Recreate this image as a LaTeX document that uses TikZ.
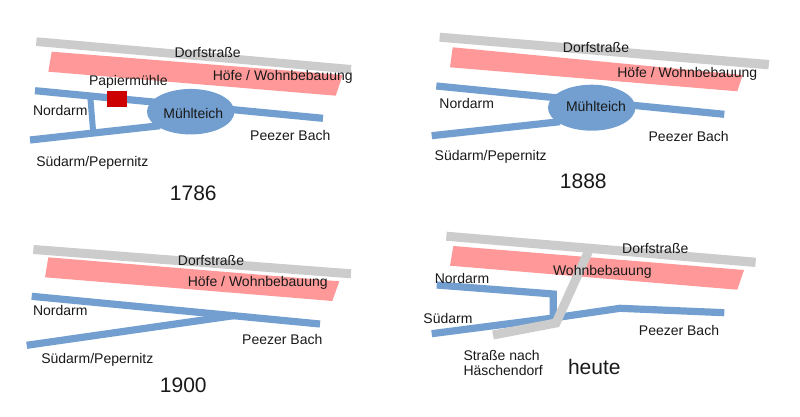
\documentclass[tikz,border=0pt]{standalone}
\usepackage{fontspec}
\setmainfont{Liberation Sans}
\usetikzlibrary{shapes.geometric}
\definecolor{roadgrey}{HTML}{CCCCCC}
\definecolor{housered}{HTML}{FF9999}
\definecolor{waterblue}{HTML}{729FCF}
\definecolor{millred}{HTML}{CC0000}
\tikzset{
  road/.style={fill=roadgrey,draw=none},
  houses/.style={fill=housered,draw=none},
  water/.style={draw=waterblue,line width=7.2pt,line join=miter},
  roadline/.style={draw=roadgrey,line width=9pt,line join=miter},
  pond/.style={ellipse,fill=waterblue,draw=none,inner sep=0pt},
  lab/.style={font=\fontsize{14}{17}\selectfont,text=black!90,inner sep=0pt},
  yearlab/.style={font=\fontsize{21}{25}\selectfont,text=black!90,inner sep=0pt}
}
\begin{document}
\begin{tikzpicture}[x=1pt,y=-1pt]
\useasboundingbox (0,0) rectangle (800,417);
% ---- 1786
\fill[road] (36.7,37.3) -- (351.3,65) -- (351,73.5) -- (36,46) -- cycle;
\fill[houses] (51.7,51.7) -- (342.7,75) -- (335.7,95.7) -- (48.3,71.7) -- cycle;
\coordinate (a1) at (35,90.7); \coordinate (a2) at (323,118.3);
\coordinate (a3) at (30,140); \coordinate (a4) at (160,125.7);
\coordinate (a5) at (90.3,97); \coordinate (a6) at (93,130);
\draw[water] (a1) -- (a2);
\draw[water] (a3) -- (a4);
\draw[water,line width=6pt] (a5) -- (a6);
\node[pond,minimum width=87.5pt,minimum height=45.5pt] (ma) at (190.7,111.7) {};
\fill[millred] (107.3,90.7) rectangle (127.3,107.3);
\node[lab] (da) at (207.7,52.7) {Dorfstraße};
\node[lab] (ha) at (282.7,77.3) {Höfe / Wohnbebauung};
\node[lab] (pa) at (128.3,82.3) {Papiermühle};
\node[lab] (na) at (60.3,110) {Nordarm};
\node[lab] at (193.3,113.3) {Mühlteich};
\node[lab] (ba) at (290.3,135) {Peezer Bach};
\node[lab] (sa) at (92.3,162.7) {Südarm/Pepernitz};
\node[yearlab] (ya) at (193.3,193.3) {1786};
% ---- 1888
\fill[road] (440,32.7) -- (769.3,60) -- (768.3,69.3) -- (439.3,41.7) -- cycle;
\fill[houses] (452.7,47.3) -- (742.7,75) -- (737.3,91.3) -- (450,67.3) -- cycle;
\coordinate (b1) at (436.3,86); \coordinate (b2) at (724.3,114.3);
\coordinate (b3) at (431.7,135.7); \coordinate (b4) at (560,121.7);
\draw[water] (b1) -- (b2);
\draw[water] (b3) -- (b4);
\node[pond,minimum width=87.5pt,minimum height=46pt] (mb) at (591.7,107.7) {};
\node[lab] (db) at (596,47.7) {Dorfstraße};
\node[lab] (hb) at (687.3,74) {Höfe / Wohnbebauung};
\node[lab] (nb) at (466.7,103.3) {Nordarm};
\node[lab] at (596,106.7) {Mühlteich};
\node[lab] (bb) at (688.7,136.3) {Peezer Bach};
\node[lab] (sb) at (490.7,157) {Südarm/Pepernitz};
\node[yearlab] (yb) at (583.3,181.7) {1888};
% ---- 1900
\fill[road] (33.7,245) -- (351.3,269.3) -- (350.7,278.3) -- (33,254) -- cycle;
\fill[houses] (48.3,257.3) -- (339.3,281.3) -- (332.3,301) -- (45,277.3) -- cycle;
\coordinate (c1) at (31.7,296.3); \coordinate (c2) at (320,324);
\coordinate (c3) at (26.7,345.3); \coordinate (c4) at (233.3,315.7);
\draw[water] (c1) -- (c2);
\draw[water] (c3) -- (c4);
\node[lab] (dc) at (211,260) {Dorfstraße};
\node[lab] (hc) at (257.7,283) {Höfe / Wohnbebauung};
\node[lab] (nc) at (60.3,310) {Nordarm};
\node[lab] (bc) at (282.3,339) {Peezer Bach};
\node[lab] (sc) at (97.3,360.3) {Südarm/Pepernitz};
\node[yearlab] (yc) at (183.3,385.7) {1900};
% ---- heute
\fill[road] (446.7,231.7) -- (756,257.7) -- (755.3,267) -- (446,240.7) -- cycle;
\fill[houses] (453.3,246) -- (744,270) -- (737.3,289.7) -- (450,265.7) -- cycle;
\coordinate (d1) at (436.7,285); \coordinate (d2) at (553.3,294); \coordinate (d3) at (553.3,318);
\coordinate (d4) at (431.7,333.7); \coordinate (d5) at (620,308.3); \coordinate (d6) at (724.3,312.7);
\coordinate (r1) at (588.3,251.7); \coordinate (r2) at (556,323); \coordinate (r3) at (493,335);
\draw[water] (d1) -- (d2) -- (d3);
\draw[water] (d4) -- (d3) -- (d5) -- (d6);
\draw[roadline] (r1) -- (r2) -- (r3);
\node[lab] (dd) at (655.3,248.3) {Dorfstraße};
\node[lab] (hd) at (602.3,271.7) {Wohnbebauung};
\node[lab] (nd) at (462,278.7) {Nordarm};
\node[lab] (sd) at (448,318.3) {Südarm};
\node[lab] (bd) at (679,330.3) {Peezer Bach};
\node[lab,anchor=west] (h1) at (463.3,355) {Straße nach};
\node[lab,anchor=west] (h2) at (463.3,370.7) {Häschendorf};
\node[yearlab] (yd) at (594.3,367) {heute};
\end{tikzpicture}
\end{document}
